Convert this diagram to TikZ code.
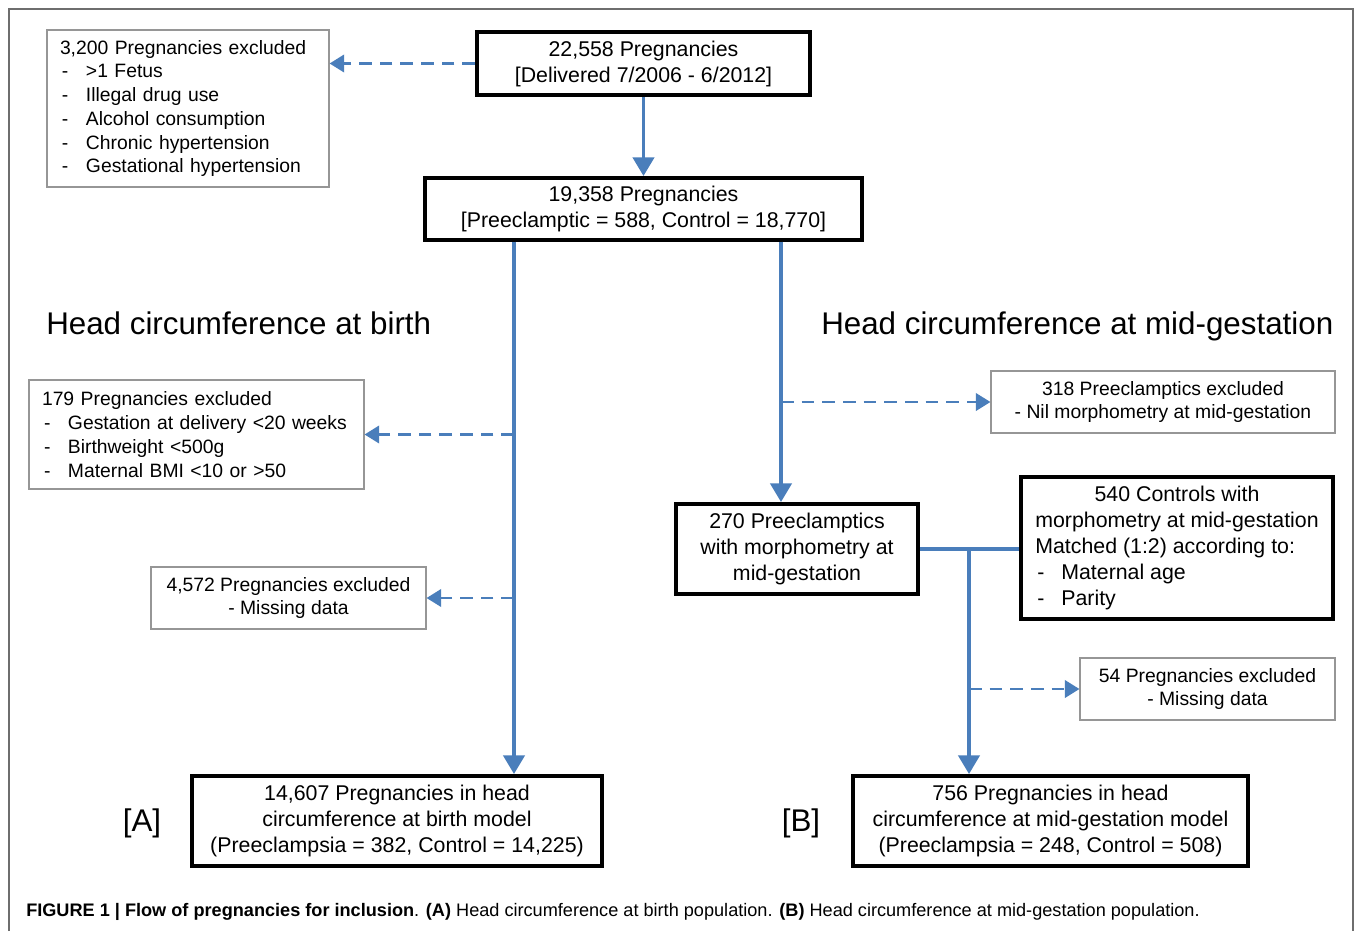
\documentclass[tikz,border=0pt]{standalone}
\usepackage{fontspec}
\setmainfont{Liberation Sans}
\usetikzlibrary{arrows.meta}
\definecolor{flowblue}{RGB}{74,126,187}
\definecolor{exclgray}{RGB}{150,150,150}
\definecolor{framegray}{RGB}{110,110,110}
\newcommand{\itm}[1]{\makebox[19.5pt][l]{\hspace{1.5pt}-}#1}
\begin{document}
\begin{tikzpicture}[x=0.75pt,y=-0.75pt,
 bigbox/.style={draw=black,line width=3pt,fill=white,inner sep=0pt,align=center,font=\fontsize{16}{19.5}\selectfont},
 exclbox/.style={draw=exclgray,line width=0.8pt,fill=white,inner sep=0pt,font=\fontsize{14.5}{17.8}\selectfont},
 flowline/.style={draw=flowblue,line width=2.5pt},
 flowarrow/.style={flowline,-{Triangle[length=14pt,width=16pt]}},
 exclarrow/.style={draw=flowblue,line width=2.2pt,dash pattern=on 9.5pt off 6pt,-{Triangle[length=11pt,width=13pt]}},
 heading/.style={inner sep=0pt,font=\fontsize{23.5}{28}\selectfont},
]
\useasboundingbox (0,0) rectangle (1355,931);
\draw[framegray,line width=1.1pt] (9,931) -- (9,9) -- (1353,9) -- (1353,931);

% main boxes
\node[bigbox,minimum width=249.75pt,minimum height=47.25pt] (total) at (643.5,63.5) {22,558 Pregnancies\\{[Delivered 7/2006 - 6/2012]}};
\node[bigbox,minimum width=327.75pt,minimum height=46.5pt] (eligible) at (643.5,209) {19,358 Pregnancies\\{[Preeclamptic = 588, Control = 18,770]}};
\node[bigbox,minimum width=307.5pt,minimum height=67.5pt] (birth) at (397,821) {14,607 Pregnancies in head\\circumference at birth model\\(Preeclampsia = 382, Control = 14,225)};
\node[bigbox,minimum width=181.5pt,minimum height=67.5pt] (pe) at (797,549) {270 Preeclamptics\\with morphometry at\\mid-gestation};
\node[bigbox,minimum width=234pt,minimum height=106.5pt] (ctrl) at (1177,548) {\begin{tabular}{@{}l@{}}\multicolumn{1}{@{}c@{}}{540 Controls with}\\morphometry at mid-gestation\\Matched (1:2) according to:\\\itm{Maternal age}\\\itm{Parity}\end{tabular}};
\node[bigbox,minimum width=296.25pt,minimum height=67.5pt] (mid) at (1050.5,821) {756 Pregnancies in head\\circumference at mid-gestation model\\(Preeclampsia = 248, Control = 508)};

% exclusion boxes
\node[exclbox,align=left,inner xsep=9.75pt,text width=192pt,minimum height=117.75pt] (excl1) at (188,108.5) {3,200 Pregnancies excluded\\\itm{>1 Fetus}\\\itm{Illegal drug use}\\\itm{Alcohol consumption}\\\itm{Chronic hypertension}\\\itm{Gestational hypertension}};
\node[exclbox,align=left,inner xsep=9.75pt,text width=231.75pt,minimum height=81.75pt] (excl2) at (196.5,434.5) {179 Pregnancies excluded\\\itm{Gestation at delivery <20 weeks}\\\itm{Birthweight <500g}\\\itm{Maternal BMI <10 or >50}};
\node[exclbox,align=center,minimum width=206.25pt,minimum height=46.5pt] (excl3) at (288.5,598) {4,572 Pregnancies excluded\\- Missing data};
\node[exclbox,align=center,minimum width=258pt,minimum height=46.5pt] (excl4) at (1163,402) {318 Preeclamptics excluded\\- Nil morphometry at mid-gestation};
\node[exclbox,align=center,minimum width=191.25pt,minimum height=46.5pt] (excl5) at (1207.5,689) {54 Pregnancies excluded\\- Missing data};

% headings and labels
\node[heading,anchor=base west] (hbirth) at (46,334) {Head circumference at birth};
\node[heading,anchor=base west] (hmid) at (821,334) {Head circumference at mid-gestation};
\node[heading] (labA) at (142,823) {[A]};
\node[heading] (labB) at (801,823) {[B]};
\node[inner sep=0pt,anchor=base west,font=\fontsize{13.6}{16}\selectfont] (caption) at (26,916) {\textbf{FIGURE 1 | Flow of pregnancies for inclusion}. \textbf{(A)} Head circumference at birth population. \textbf{(B)} Head circumference at mid-gestation population.};

% connectors
\coordinate (Lsplit) at (514,241.5);
\coordinate (Rsplit) at (781,241.5);
\coordinate (join) at (969,549);
\draw[flowarrow] (total.south) -- (eligible.north);
\draw[exclarrow] (total.west) -- (total.west -| excl1.east);
\draw[flowarrow] (Lsplit) -- (Lsplit |- birth.north);
\draw[exclarrow] (excl2.east -| Lsplit) -- (excl2.east);
\draw[exclarrow] (excl3.east -| Lsplit) -- (excl3.east);
\draw[flowarrow] (Rsplit) -- (Rsplit |- pe.north);
\draw[exclarrow] (excl4.west -| Rsplit) -- (excl4.west);
\draw[flowline] (pe.east) -- (pe.east -| ctrl.west);
\draw[flowarrow] (join) -- (join |- mid.north);
\draw[exclarrow] (excl5.west -| join) -- (excl5.west);
\end{tikzpicture}
\end{document}
